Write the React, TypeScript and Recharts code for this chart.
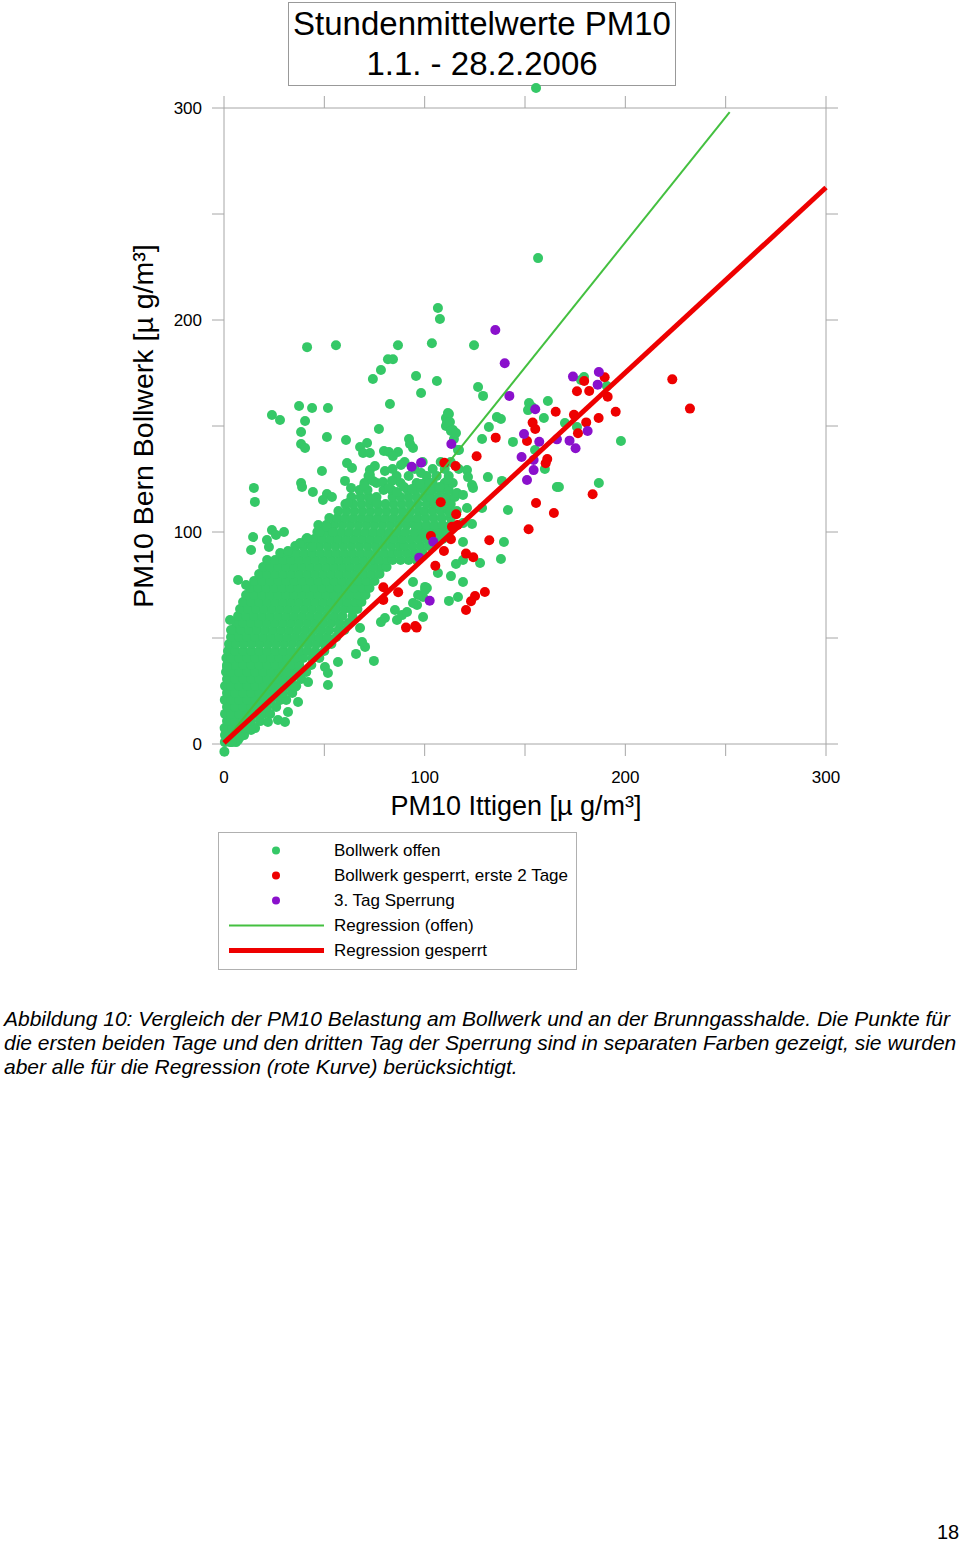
import React from "react";
import {
  ScatterChart,
  Scatter,
  XAxis,
  YAxis,
  ReferenceDot,
} from "recharts";

// axis ticks (every 50, labels only at hundreds)
const axisTicks = [0, 50, 100, 150, 200, 250, 300];
const labelledTicks = [0, 100, 200, 300];

// dense part of the "Bollwerk offen" cloud, read row by row: [y, xs]
const greenCloudRows: [number, number[]][] = [
  [0.9, [0.4, 3, 6]],
  [4.2, [0.5, 2.5, 6.5, 10]],
  [7.5, [0.3, 4, 8, 12, 15.5]],
  [10.8, [1.5, 5.5, 9.5, 13.5, 18]],
  [14.2, [0.5, 3.5, 7.5, 11.5, 15.5, 19.5, 23]],
  [17.5, [1.5, 5.5, 9.5, 13.5, 17.5, 21.5, 26]],
  [20.8, [0.4, 3.5, 7.5, 11.5, 15.5, 19.5, 23.5, 28, 31]],
  [24.1, [1.5, 5.5, 9.5, 13.5, 17.5, 21.5, 25.5, 29.5, 34]],
  [27.4, [0.5, 3.5, 7.5, 11.5, 15.5, 19.5, 23.5, 27.5, 31.5, 36]],
  [30.7, [1.5, 5.5, 9.5, 13.5, 17.5, 21.5, 25.5, 29.5, 33.5, 38.5]],
  [34.0, [1, 3.5, 7.5, 11.5, 15.5, 19.5, 23.5, 27.5, 31.5, 35.5, 41]],
  [37.3, [1.5, 5.5, 9.5, 13.5, 17.5, 21.5, 25.5, 29.5, 33.5, 37.5, 43.5]],
  [40.6, [1.2, 3.5, 7.5, 11.5, 15.5, 19.5, 23.5, 27.5, 31.5, 35.5, 39.5, 44, 47.5]],
  [43.9, [2, 5.5, 9.5, 13.5, 17.5, 21.5, 25.5, 29.5, 33.5, 37.5, 41.5, 45.5, 50]],
  [47.2, [2.5, 6, 10, 14, 18, 22, 26, 30, 34, 38, 42, 46, 50, 53.5]],
  [50.5, [3.5, 7.5, 11.5, 15.5, 19.5, 23.5, 27.5, 31.5, 35.5, 39.5, 43.5, 47.5, 51.5, 56]],
  [53.8, [4.5, 8.5, 12.5, 16.5, 20.5, 24.5, 28.5, 32.5, 36.5, 40.5, 44.5, 48.5, 52.5, 57, 60]],
  [57.1, [6, 9.5, 13.5, 17.5, 21.5, 25.5, 29.5, 33.5, 37.5, 41.5, 45.5, 49.5, 53.5, 57.5, 62]],
  [60.4, [7, 11, 15, 19, 23, 27, 31, 35, 39, 43, 47, 51, 55, 59, 64]],
  [63.7, [8, 12, 16, 20, 24, 28, 32, 36, 40, 44, 48, 52, 56, 60, 63.5, 66.5]],
  [67.0, [9.5, 13.5, 17.5, 21.5, 25.5, 29.5, 33.5, 37.5, 41.5, 45.5, 49.5, 53.5, 57.5, 61.5, 65.5, 68.5]],
  [70.3, [11, 15, 19, 23, 27, 31, 35, 39, 43, 47, 51, 55, 59, 63, 67, 70.5]],
  [73.6, [13, 17, 21, 25, 29, 33, 37, 41, 45, 49, 53, 57, 61, 65, 69, 72.5]],
  [76.9, [15, 19, 23, 27, 31, 35, 39, 43, 47, 51, 55, 59, 63, 67, 71, 75]],
  [80.2, [17.5, 21.5, 25.5, 29.5, 33.5, 37.5, 41.5, 45.5, 49.5, 53.5, 57.5, 61.5, 65.5, 69.5, 73.5, 77.5]],
  [83.5, [19.5, 23, 27, 31, 35, 39, 43, 47, 51, 55, 59, 63, 67, 71, 75, 79, 81]],
  [86.8, [21.5, 25.5, 29.5, 33.5, 37.5, 41.5, 45.5, 49.5, 53.5, 57.5, 61.5, 65.5, 69.5, 73.5, 77.5, 81.5, 84, 88, 92, 96]],
  [90.1, [28, 32, 36, 40, 44, 48, 52, 56, 60, 64, 68, 72, 76, 80, 84, 87, 91, 95, 99]],
  [93.4, [35.5, 39.5, 43.5, 47.5, 51.5, 55.5, 59.5, 63.5, 67.5, 71.5, 75.5, 79.5, 83.5, 87.5, 90, 94, 98, 102]],
  [96.7, [41, 45, 49, 53, 57, 61, 65, 69, 73, 77, 81, 85, 89, 93, 97, 101, 105, 109]],
  [100, [46.5, 50.5, 54.5, 58.5, 62.5, 66.5, 70.5, 74.5, 78.5, 82.5, 86.5, 90.5, 95, 99, 103, 107, 111]],
  [103.3, [47, 51, 55, 59, 63, 67, 71, 75, 79, 83, 87, 91, 95, 97, 101, 105, 109, 113]],
  [106.6, [52.5, 56.5, 60.5, 64.5, 68.5, 72.5, 76.5, 80.5, 84.5, 88.5, 92.5, 96.5, 100.5, 104.5, 108.5, 113]],
  [109.9, [57, 61, 65, 69, 73, 77, 81, 85, 89, 93, 97, 100, 104, 108, 112, 116]],
  [113.2, [60.5, 64.5, 68.5, 72.5, 76.5, 80.5, 84.5, 88.5, 92.5, 96.5, 101, 105, 109, 113]],
  [116.5, [63.5, 68, 72, 76, 84, 88, 92, 96, 100, 103, 107, 111, 115]],
  [119.8, [67.5, 71.5, 79.5, 83.5, 91.5, 95.5, 99.5, 104, 108, 112]],
  [123.1, [70, 76, 88, 96, 100, 104, 110, 114]],
  [126.4, [72, 86, 92, 101, 106, 112]],
  [129.7, [84, 95, 104, 110, 117]],
  [133, [90, 99, 108, 113]],
];

// scattered "Bollwerk offen" points around the cloud: [x, y]
const greenScatter: [number, number][] = [
  [156.5, 229.2], [106.6, 205.7], [107.6, 200.5], [41.4, 187.2], [55.8, 188.1],
  [86.7, 188.1], [103.6, 189.0], [124.6, 188.1], [81.7, 181.5], [84.2, 181.5],
  [78.2, 176.4], [74.2, 172.2], [95.7, 173.6], [106.1, 171.2], [98.2, 165.6],
  [82.7, 160.4], [37.4, 159.4], [43.9, 158.5], [51.8, 158.5], [23.9, 155.2],
  [27.9, 152.8], [40.4, 152.4], [38.4, 147.2], [77.2, 148.6], [110.6, 153.8],
  [112.1, 155.7], [110.6, 150.0], [111.1, 151.4], [51.3, 144.8], [60.8, 143.4],
  [38.4, 141.5], [40.4, 139.6], [67.8, 140.1], [71.3, 142.0], [69.3, 137.3],
  [72.7, 137.3], [79.7, 138.2], [82.2, 137.7], [86.7, 137.7], [84.2, 135.8],
  [92.2, 143.9], [94.2, 139.6], [92.7, 141.5], [113.1, 147.6], [114.6, 143.9],
  [116.6, 138.7], [88.2, 131.6], [61.3, 132.5], [63.8, 130.2], [48.8, 128.8],
  [72.7, 129.2], [75.2, 131.1], [80.2, 128.8], [98.2, 127.8], [38.4, 123.1],
  [38.9, 121.2], [44.3, 118.9], [14.9, 120.8], [15.4, 114.2], [60.3, 124.1],
  [63.3, 120.8], [69.8, 121.7], [74.2, 124.1], [72.7, 126.9], [79.2, 123.6],
  [83.7, 124.1], [82.2, 120.8], [86.2, 118.9], [89.7, 121.2], [93.7, 120.3],
  [97.7, 122.6], [102.6, 119.8], [107.6, 121.2], [111.6, 124.5], [116.1, 118.4],
  [51.3, 117.9], [53.8, 116.5], [49.3, 115.1], [61.8, 113.7], [73.7, 115.1],
  [76.2, 113.7], [14.5, 97.6], [13.5, 91.5], [21.4, 96.2], [23.9, 100.9],
  [25.9, 98.6], [29.9, 100.0], [22.4, 92.9], [31.9, 91.0], [37.9, 94.8],
  [41.4, 97.2], [43.9, 92.9], [47.8, 100.0], [51.3, 102.4], [54.3, 100.0],
  [7.0, 77.4], [11.0, 75.0], [3.0, 58.5], [3.5, 53.8], [1.5, 36.3],
  [126.6, 168.4], [129.1, 164.2], [152.0, 160.8], [153.5, 159.0], [151.5, 157.5],
  [161.4, 161.8], [159.4, 153.8], [136.0, 154.2], [138.0, 153.3], [132.0, 149.5],
  [128.6, 143.9], [144.0, 142.5], [155.0, 138.7], [159.9, 129.7], [165.9, 121.2],
  [111.6, 156.1], [112.6, 151.9], [114.1, 148.1], [115.6, 146.7], [117.1, 138.7],
  [121.1, 129.2], [121.6, 125.9], [123.6, 122.2], [124.1, 120.8], [131.5, 125.9],
  [138.5, 124.1], [128.6, 111.3], [123.6, 103.8], [141.5, 110.4], [139.5, 95.3],
  [138.0, 87.3], [127.6, 85.4], [119.1, 86.8], [115.6, 84.9], [119.1, 76.4],
  [113.1, 79.2], [116.6, 69.3], [112.1, 67.5], [101.1, 73.6], [99.2, 69.3],
  [106.6, 80.7], [119.1, 104.2], [119.1, 95.3], [102.6, 123.1], [119.1, 117.5],
  [121.1, 111.3], [112.6, 109.0], [197.8, 142.9], [186.8, 123.1], [166.9, 121.2],
  [177.9, 171.7], [179.4, 173.1], [190.8, 168.9], [169.9, 151.4], [175.9, 149.5],
  [96.2, 65.6], [99.2, 59.9], [94.2, 76.4], [100.2, 74.1],
  [51.8, 27.8], [56.8, 38.7], [50.3, 36.3], [65.8, 42.5], [74.7, 39.2],
  [70.3, 45.8], [68.8, 48.1], [67.8, 54.7], [78.2, 57.5], [80.2, 59.4],
  [85.2, 63.2], [36.9, 19.8], [31.9, 15.1], [21.9, 10.4], [26.9, 11.3],
  [30.4, 10.4], [13.5, 6.6], [7.0, 1.9], [35.4, 26.9], [41.9, 29.2],
  [37.9, 31.6], [51.8, 33.5], [86.2, 58.5], [88.7, 60.8], [91.2, 62.3],
  [94.2, 66.5], [96.7, 70.3], [100.2, 72.6], [8.0, 3.3], [4.0, 0.9],
];

// open-day points that lie just outside the 0..300 frame
const greenOutside: [number, number][] = [
  [155.5, 309.4],
  [0.2, -3.6],
];

// "Bollwerk gesperrt, erste 2 Tage"
const redPoints: [number, number][] = [
  [223.4, 172.0], [232.2, 158.2], [179.5, 171.2], [189.7, 173.0], [175.9, 166.4],
  [182.0, 166.5], [191.2, 163.8], [165.3, 156.7], [195.2, 156.7], [174.4, 155.3],
  [180.5, 151.7], [186.7, 153.8], [176.4, 146.6], [153.8, 151.6], [155.1, 148.6],
  [151.0, 142.9], [135.4, 144.5], [161.1, 134.4], [160.3, 132.4], [125.9, 135.7],
  [109.8, 132.7], [115.4, 131.1], [108.0, 114.0], [115.7, 108.4], [113.6, 102.5],
  [116.4, 103.3], [113.1, 96.6], [103.1, 98.1], [109.6, 91.0], [105.3, 84.1],
  [132.2, 96.1], [120.6, 89.8], [124.2, 88.1], [155.5, 113.7], [164.4, 109.0],
  [151.8, 101.3], [183.7, 117.8], [130.0, 71.7], [125.1, 69.8], [123.1, 67.3],
  [120.6, 63.2], [86.8, 71.6], [79.4, 73.9], [79.4, 67.9], [90.7, 54.9],
  [95.3, 55.7], [96.0, 54.9],
];

// "3. Tag Sperrung"
const purplePoints: [number, number][] = [
  [135.2, 195.3], [139.9, 179.6], [142.2, 164.2], [173.9, 173.3], [186.8, 175.5],
  [186.2, 169.5], [155.1, 157.9], [149.5, 146.2], [157.1, 142.6], [165.9, 143.7],
  [172.2, 143.1], [175.2, 139.5], [181.2, 147.6], [113.3, 141.5], [93.5, 130.8],
  [98.2, 132.7], [148.3, 135.4], [154.3, 134.0], [154.3, 129.2], [151.0, 124.5],
  [104.3, 95.4], [97.3, 87.9], [102.5, 67.6],
];

// regression lines, end points
const regressionOpen = [
  { x: 0, y: 0.7 },
  { x: 252, y: 298 },
];
const regressionClosed = [
  { x: 0, y: 0.5 },
  { x: 300, y: 262.5 },
];

const GREEN = "#35c867";
const GREEN_LINE = "#44c040";
const RED = "#ee0000";
const PURPLE = "#8a10cc";
const AXIS = "#a6a6a6";
const FONT = "'Liberation Sans', Arial, Helvetica, sans-serif";
const DOT_R = 5;

const toXY = (p: [number, number]) => ({ x: p[0], y: p[1] });

const greenData = [
  ...greenCloudRows.flatMap(([y, xs]) => xs.map((x) => ({ x, y }))),
  ...greenScatter.map(toXY),
];
const redData = redPoints.map(toXY);
const purpleData = purplePoints.map(toXY);

const tickLabel = (v: number) => (labelledTicks.includes(v) ? String(v) : "");
const noLabel = () => "";
const noShape = () => <g />;
const dot = (color: string) => (p: any) => <circle cx={p.cx} cy={p.cy} r={DOT_R} fill={color} />;

function LegendBox() {
  const rows = [
    { label: "Bollwerk offen", kind: "dot", color: GREEN },
    { label: "Bollwerk gesperrt, erste 2 Tage", kind: "dot", color: RED },
    { label: "3. Tag Sperrung", kind: "dot", color: PURPLE },
    { label: "Regression (offen)", kind: "line", color: GREEN_LINE, width: 2 },
    { label: "Regression gesperrt", kind: "line", color: RED, width: 5 },
  ];
  return (
    <div
      style={{
        position: "absolute",
        left: 218,
        top: 832,
        width: 357,
        height: 136,
        border: "1px solid #b0b0b0",
        fontFamily: FONT,
        fontSize: 17,
        color: "#000",
      }}
    >
      {rows.map((r, i) => (
        <div
          key={r.label}
          style={{
            position: "absolute",
            left: 0,
            top: 5 + i * 25,
            height: 25,
            width: 357,
            display: "flex",
            alignItems: "center",
          }}
        >
          <svg width={115} height={25} style={{ flex: "none" }}>
            {r.kind === "dot" ? (
              <circle cx={57} cy={12.5} r={4} fill={r.color} />
            ) : (
              <line x1={10} x2={105} y1={12.5} y2={12.5} stroke={r.color} strokeWidth={r.width} />
            )}
          </svg>
          <span style={{ whiteSpace: "nowrap" }}>{r.label}</span>
        </div>
      ))}
    </div>
  );
}

export default function App() {
  return (
    <div
      style={{
        position: "absolute",
        left: 0,
        top: 0,
        width: 960,
        height: 1543,
        background: "#fff",
        fontFamily: FONT,
      }}
    >
      <div
        style={{
          position: "absolute",
          left: 288,
          top: 2,
          width: 386,
          height: 81,
          border: "1px solid #999",
          textAlign: "center",
          fontSize: 33,
          lineHeight: "40px",
          paddingTop: 1,
          color: "#000",
        }}
      >
        Stundenmittelwerte PM10
        <br />
        1.1. - 28.2.2006
      </div>

      <div style={{ position: "absolute", left: 0, top: 0 }}>
        <ScatterChart width={960} height={830} margin={{ top: 0, right: 0, bottom: 0, left: 0 }}>
          <XAxis
            xAxisId="b"
            dataKey="x"
            type="number"
            domain={[0, 300]}
            ticks={axisTicks}
            tickFormatter={tickLabel}
            height={86}
            tickSize={12}
            tickMargin={15}
            stroke={AXIS}
            tick={{ fill: "#000", fontSize: 17, fontFamily: FONT }}
            label={{
              content: (p: any) => (
                <text
                  x={p.viewBox.x + p.viewBox.width / 2 - 9}
                  y={p.viewBox.y + 71}
                  textAnchor="middle"
                  fontSize={27}
                  fontFamily={FONT}
                  fill="#000"
                >
                  PM10 Ittigen [µ g/m³]
                </text>
              ),
            }}
          />
          <XAxis
            xAxisId="t"
            orientation="top"
            dataKey="x"
            type="number"
            domain={[0, 300]}
            ticks={axisTicks}
            tickFormatter={noLabel}
            height={108}
            tickSize={12}
            stroke={AXIS}
          />
          <YAxis
            yAxisId="l"
            dataKey="y"
            type="number"
            domain={[0, 300]}
            ticks={axisTicks}
            tickFormatter={tickLabel}
            width={224}
            tickSize={12}
            tickMargin={10}
            stroke={AXIS}
            tick={{ fill: "#000", fontSize: 17, fontFamily: FONT }}
            label={{
              content: (p: any) => {
                const cx = 143;
                const cy = p.viewBox.y + p.viewBox.height / 2;
                return (
                  <text
                    x={cx}
                    y={cy}
                    transform={`rotate(-90 ${cx} ${cy})`}
                    textAnchor="middle"
                    dominantBaseline="central"
                    fontSize={28.5}
                    fontFamily={FONT}
                    fill="#000"
                  >
                    PM10 Bern Bollwerk [µ g/m³]
                  </text>
                );
              },
            }}
          />
          <YAxis
            yAxisId="r"
            orientation="right"
            dataKey="y"
            type="number"
            domain={[0, 300]}
            ticks={axisTicks}
            tickFormatter={noLabel}
            width={134}
            tickSize={12}
            stroke={AXIS}
          />

          {/* invisible series so the top and right frame axes get their ticks */}
          <Scatter
            data={regressionClosed}
            xAxisId="t"
            yAxisId="r"
            shape={noShape}
            isAnimationActive={false}
          />

          <Scatter
            name="Bollwerk offen"
            data={greenData}
            xAxisId="b"
            yAxisId="l"
            fill={GREEN}
            shape={dot(GREEN)}
            isAnimationActive={false}
          />
          <Scatter
            name="Bollwerk gesperrt, erste 2 Tage"
            data={redData}
            xAxisId="b"
            yAxisId="l"
            fill={RED}
            shape={dot(RED)}
            isAnimationActive={false}
          />
          <Scatter
            name="3. Tag Sperrung"
            data={purpleData}
            xAxisId="b"
            yAxisId="l"
            fill={PURPLE}
            shape={dot(PURPLE)}
            isAnimationActive={false}
          />
          {greenOutside.map(([x, y]) => (
            <ReferenceDot
              key={`${x}-${y}`}
              x={x}
              y={y}
              r={DOT_R}
              fill={GREEN}
              stroke="none"
              xAxisId="b"
              yAxisId="l"
              ifOverflow="visible"
            />
          ))}
          <Scatter
            name="Regression (offen)"
            data={regressionOpen}
            xAxisId="b"
            yAxisId="l"
            line={{ stroke: GREEN_LINE, strokeWidth: 2 }}
            lineType="joint"
            shape={noShape}
            isAnimationActive={false}
          />
          <Scatter
            name="Regression gesperrt"
            data={regressionClosed}
            xAxisId="b"
            yAxisId="l"
            line={{ stroke: RED, strokeWidth: 5 }}
            lineType="joint"
            shape={noShape}
            isAnimationActive={false}
          />
        </ScatterChart>
      </div>

      <LegendBox />

      <div
        style={{
          position: "absolute",
          left: 4,
          top: 1007,
          fontSize: 21,
          lineHeight: "24px",
          fontStyle: "italic",
          whiteSpace: "nowrap",
          color: "#000",
        }}
      >
        Abbildung 10: Vergleich der PM10 Belastung am Bollwerk und an der Brunngasshalde. Die Punkte für
        <br />
        die ersten beiden Tage und den dritten Tag der Sperrung sind in separaten Farben gezeigt, sie wurden
        <br />
        aber alle für die Regression (rote Kurve) berücksichtigt.
      </div>

      <div
        style={{
          position: "absolute",
          left: 937,
          top: 1521,
          fontSize: 20,
          color: "#000",
        }}
      >
        18
      </div>
    </div>
  );
}
